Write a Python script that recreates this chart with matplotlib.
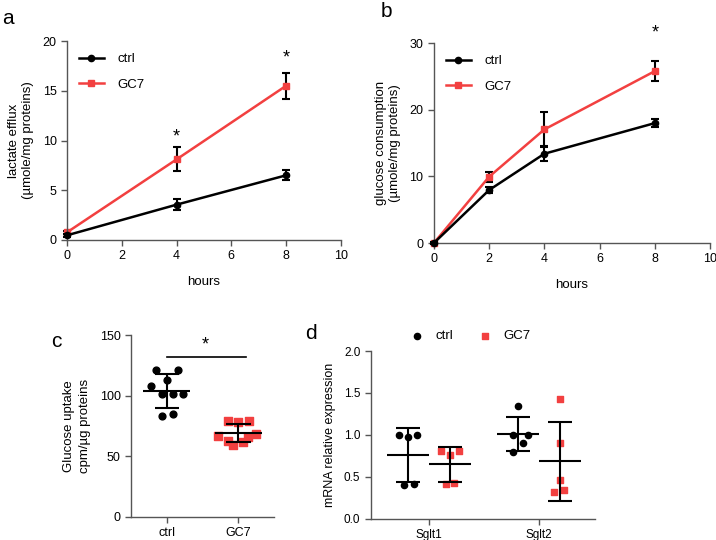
import numpy as np
import matplotlib
matplotlib.use("Agg")
import matplotlib.pyplot as plt
from matplotlib.lines import Line2D

plt.rcParams['font.family'] = ['Liberation Sans', 'DejaVu Sans']
plt.rcParams['font.size'] = 8

RED = '#f24040'
SPINE = '#555555'

# panel a: lactate efflux
hours_a = [0, 4, 8]
lac_ctrl = [0.47, 3.55, 6.5]
lac_ctrl_err = [0.15, 0.55, 0.5]
lac_gc7 = [0.77, 8.1, 15.5]
lac_gc7_err = [0.15, 1.2, 1.3]
lac_star_x = [4, 8]
lac_star_y = [10.4, 18.3]

# panel b: glucose consumption
hours_b = [0, 2, 4, 8]
glc_ctrl = [0.0, 7.95, 13.4, 18.0]
glc_ctrl_err = [0.1, 0.5, 1.15, 0.65]
glc_gc7 = [0.0, 9.95, 17.05, 25.8]
glc_gc7_err = [0.1, 0.75, 2.6, 1.55]
glc_star_x = [8]
glc_star_y = [31.5]

# panel c: glucose uptake
uptake_ctrl = [121, 121, 113, 108, 101, 101, 101, 83, 85]
uptake_ctrl_dx = [-0.15, 0.15, 0, -0.22, -0.07, 0.08, 0.23, -0.07, 0.08]
uptake_gc7 = [79, 78, 79, 67, 68, 66, 63, 59, 62]
uptake_gc7_dx = [-0.15, 0.0, 0.15, -0.28, 0.25, 0.13, -0.15, -0.07, 0.06]
uptake_mean = [104, 69]
uptake_sd = [14, 7.5]
uptake_labels = ['ctrl', 'GC7']

# panel d: mRNA expression
genes = ['Sglt1', 'Sglt2']
mrna_ctrl = [[1.0, 0.98, 1.0, 0.40, 0.42], [1.34, 1.0, 1.0, 0.90, 0.80]]
mrna_ctrl_dx = [[-0.08, 0.0, 0.08, -0.04, 0.05], [0.0, -0.05, 0.09, 0.045, -0.045]]
mrna_gc7 = [[0.81, 0.76, 0.81, 0.42, 0.43], [1.43, 0.90, 0.47, 0.32, 0.34]]
mrna_gc7_dx = [[-0.08, 0.0, 0.08, -0.04, 0.04], [0.0, 0.0, 0.0, -0.05, 0.04]]
mrna_ctrl_mean = [0.76, 1.01]
mrna_ctrl_sd = [0.32, 0.20]
mrna_gc7_mean = [0.65, 0.69]
mrna_gc7_sd = [0.21, 0.47]


def style(ax):
    for s in ['top', 'right']:
        ax.spines[s].set_visible(False)
    for s in ['left', 'bottom']:
        ax.spines[s].set_color(SPINE)
        ax.spines[s].set_linewidth(1.0)
    ax.tick_params(direction='out', length=4, width=1.0, color=SPINE, labelsize=9)


def mean_sd(ax, x, m, sd, color='black', wmean=0.33, wcap=0.17):
    ax.hlines(m, x - wmean, x + wmean, color=color, lw=1.5, zorder=4)
    ax.vlines(x, m - sd, m + sd, color=color, lw=1.5, zorder=4)
    ax.hlines([m - sd, m + sd], x - wcap, x + wcap, color=color, lw=1.5, zorder=4)


def line_legend(ax):
    handles = [Line2D([], [], color='black', marker='o', ms=4.5, lw=1.8),
               Line2D([], [], color=RED, marker='s', ms=4.5, lw=1.8)]
    ax.legend(handles, ['ctrl', 'GC7'], loc='upper left', frameon=False, fontsize=9.5,
              handlelength=1.9, handletextpad=1.0, bbox_to_anchor=(0.0, 1.0), labelspacing=1.0)


fig = plt.figure(figsize=(7.16, 5.4), dpi=100)

# ---- a
ax1 = fig.add_axes([0.0936, 0.5556, 0.3824, 0.3684])
ax1.errorbar(hours_a, lac_ctrl, yerr=lac_ctrl_err, color='black', marker='o', ms=4.5,
             lw=1.8, capsize=3, elinewidth=1.5, capthick=1.5, clip_on=False, zorder=3)
ax1.errorbar(hours_a, lac_gc7, yerr=lac_gc7_err, color=RED, ecolor='black', marker='s', ms=4.5,
             lw=1.8, capsize=3, elinewidth=1.5, capthick=1.5, clip_on=False, zorder=2)
for x, y in zip(lac_star_x, lac_star_y):
    ax1.text(x, y, '*', ha='center', va='center', fontsize=13)
ax1.set_xlim(0, 10)
ax1.set_ylim(0, 20)
ax1.set_xticks(range(0, 11, 2))
ax1.set_yticks(range(0, 21, 5))
ax1.set_xlabel('hours', fontsize=9.5, labelpad=10)
ax1.set_ylabel('lactate efflux\n(µmole/mg proteins)', fontsize=9.5, labelpad=6)
style(ax1)
line_legend(ax1)
fig.text(0.003, 0.965, 'a', fontsize=15, va='center')

# ---- b
ax2 = fig.add_axes([0.606, 0.55, 0.3856, 0.370])
ax2.errorbar(hours_b, glc_ctrl, yerr=glc_ctrl_err, color='black', marker='o', ms=4.5,
             lw=1.8, capsize=3, elinewidth=1.5, capthick=1.5, clip_on=False, zorder=3)
ax2.errorbar(hours_b, glc_gc7, yerr=glc_gc7_err, color=RED, ecolor='black', marker='s', ms=4.5,
             lw=1.8, capsize=3, elinewidth=1.5, capthick=1.5, clip_on=False, zorder=2)
for x, y in zip(glc_star_x, glc_star_y):
    ax2.text(x, y, '*', ha='center', va='center', fontsize=13, clip_on=False)
ax2.set_xlim(0, 10)
ax2.set_ylim(0, 30)
ax2.set_xticks(range(0, 11, 2))
ax2.set_yticks(range(0, 31, 10))
ax2.set_xlabel('hours', fontsize=9.5, labelpad=10)
ax2.set_ylabel('glucose consumption\n(µmole/mg proteins)', fontsize=9.5, labelpad=6)
style(ax2)
line_legend(ax2)
fig.text(0.532, 0.978, 'b', fontsize=15, va='center')

# ---- c
ax3 = fig.add_axes([0.183, 0.0426, 0.2, 0.337])
ax3.scatter(np.array(uptake_ctrl_dx) + 0, uptake_ctrl, s=24, color='black', marker='o', zorder=3)
ax3.scatter(np.array(uptake_gc7_dx) + 1, uptake_gc7, s=28, color=RED, marker='s', zorder=3)
for i in range(2):
    mean_sd(ax3, i, uptake_mean[i], uptake_sd[i])
ax3.plot([0, 1.1], [131.6, 131.6], color='black', lw=1.2)
ax3.text(0.53, 141.5, '*', ha='center', va='center', fontsize=13)
ax3.set_xlim(-0.5, 1.5)
ax3.set_ylim(0, 150)
ax3.set_xticks([0, 1])
ax3.set_xticklabels(uptake_labels)
ax3.set_yticks(range(0, 151, 50))
ax3.set_ylabel('Glucose uptake\ncpm/µg proteins', fontsize=9.5, labelpad=6, linespacing=1.5)
style(ax3)
fig.text(0.072, 0.367, 'c', fontsize=15, va='center')

# ---- d
ax4 = fig.add_axes([0.518, 0.0389, 0.313, 0.3111])
off = 0.19
for i in range(2):
    ax4.scatter(np.array(mrna_ctrl_dx[i]) + i - off, mrna_ctrl[i], s=20, color='black',
                marker='o', zorder=3, label='ctrl' if i == 0 else None)
    ax4.scatter(np.array(mrna_gc7_dx[i]) + i + off, mrna_gc7[i], s=23, color=RED,
                marker='s', zorder=3, label='GC7' if i == 0 else None)
    mean_sd(ax4, i - off, mrna_ctrl_mean[i], mrna_ctrl_sd[i], wmean=0.19, wcap=0.11)
    mean_sd(ax4, i + off, mrna_gc7_mean[i], mrna_gc7_sd[i], wmean=0.19, wcap=0.11)
ax4.set_xlim(-0.53, 1.51)
ax4.set_ylim(0, 2.0)
ax4.set_xticks([0, 1])
ax4.set_xticklabels(genes)
ax4.set_yticks(np.arange(0, 2.01, 0.5))
ax4.yaxis.set_major_formatter(matplotlib.ticker.FormatStrFormatter('%.1f'))
ax4.set_ylabel('mRNA relative expression', fontsize=9, labelpad=6)
style(ax4)
ax4.tick_params(labelsize=8.5)
ax4.legend(loc='lower center', bbox_to_anchor=(0.44, 0.98), ncol=2, frameon=False,
           fontsize=9.5, handletextpad=0.8, columnspacing=1.8, handlelength=1.2)
fig.text(0.426, 0.383, 'd', fontsize=15, va='center')

fig.savefig('out.png', dpi=100)
